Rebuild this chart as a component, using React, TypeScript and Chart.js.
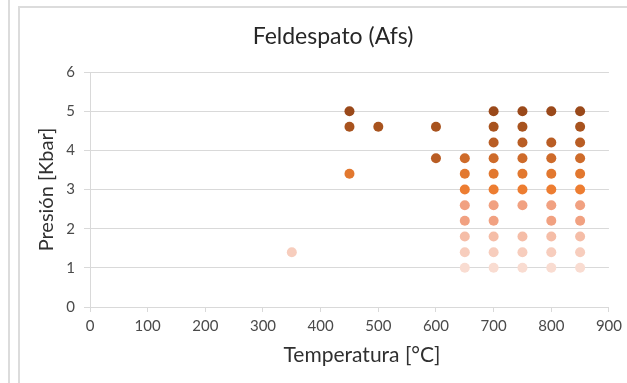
import React, { useEffect, useRef } from "react";
import { Chart, registerables } from "chart.js";
Chart.register(...registerables);

const chartTitle = "Feldespato (Afs)";
const xTitle = "Temperatura [°C]";
const yTitle = "Presión [Kbar]";
const xTickValues = [0, 100, 200, 300, 400, 500, 600, 700, 800, 900];
const yTickValues = [0, 1, 2, 3, 4, 5, 6];

// Temperature (°C) and pressure (Kbar) per colour group
const g1T = [450, 700, 750, 800, 850];
const g1P = [5.0, 5.0, 5.0, 5.0, 5.0];
const g2T = [450, 500, 600, 700, 750, 850];
const g2P = [4.6, 4.6, 4.6, 4.6, 4.6, 4.6];
const g3T = [600, 700, 750, 800, 850];
const g3P = [3.8, 4.2, 4.2, 4.2, 4.2];
const g4T = [650, 700, 750, 800, 850];
const g4P = [3.8, 3.8, 3.8, 3.8, 3.8];
const g5T = [450, 650, 700, 750, 800, 850];
const g5P = [3.4, 3.4, 3.4, 3.4, 3.4, 3.4];
const g6T = [650, 700, 750, 800, 850];
const g6P = [3.0, 3.0, 3.0, 3.0, 3.0];
const g7T = [650, 700, 750, 800, 850, 650, 700, 800, 850];
const g7P = [2.6, 2.6, 2.6, 2.6, 2.6, 2.2, 2.2, 2.2, 2.2];
const g8T = [650, 700, 750, 800, 850];
const g8P = [1.8, 1.8, 1.8, 1.8, 1.8];
const g9T = [350, 650, 700, 750, 800, 850];
const g9P = [1.4, 1.4, 1.4, 1.4, 1.4, 1.4];
const g10T = [650, 700, 750, 800, 850];
const g10P = [1.0, 1.0, 1.0, 1.0, 1.0];

const groups = [
  { t: g1T, p: g1P, color: "#9A491A" },
  { t: g2T, p: g2P, color: "#A8531E" },
  { t: g3T, p: g3P, color: "#B95D24" },
  { t: g4T, p: g4P, color: "#CE6B2A" },
  { t: g5T, p: g5P, color: "#E2782F" },
  { t: g6T, p: g6P, color: "#ED7D31" },
  { t: g7T, p: g7P, color: "#F1A181" },
  { t: g8T, p: g8P, color: "#F5BDA7" },
  { t: g9T, p: g9P, color: "#F7CDBD" },
  { t: g10T, p: g10P, color: "#F9DCD1" },
];

const FONT = "Lato, 'Open Sans', sans-serif";

const titlesPlugin = {
  id: "customTitles",
  afterDraw(chart: any) {
    const { ctx, chartArea } = chart;
    ctx.save();
    ctx.fillStyle = "#262626";
    ctx.textAlign = "center";
    ctx.textBaseline = "middle";
    ctx.font = `23px ${FONT}`;
    ctx.fillText(chartTitle, chartArea.left + 243, 29);
    ctx.font = `21px ${FONT}`;
    ctx.fillStyle = "#303030";
    ctx.fillText(xTitle, chartArea.left + 272, chartArea.bottom + 48);
    ctx.restore();
  },
};

export default function App() {
  const ref = useRef<HTMLCanvasElement>(null);
  useEffect(() => {
    if (!ref.current) return;
    const chart = new Chart(ref.current, {
      type: "scatter",
      data: {
        datasets: groups.map((g, i) => ({
          label: "S" + (i + 1),
          data: g.t.map((x, j) => ({ x, y: g.p[j] })),
          backgroundColor: g.color,
          borderColor: g.color,
          pointRadius: 5,
          pointBorderWidth: 0,
          pointHoverRadius: 5,
        })),
      },
      options: {
        animation: false,
        responsive: false,
        maintainAspectRatio: false,
        events: [],
        layout: { padding: { top: 64, right: 12, left: 0, bottom: 0 } },
        plugins: {
          legend: { display: false },
          title: { display: false },
          tooltip: { enabled: false },
        },
        scales: {
          x: {
            type: "linear",
            min: 0,
            max: 900,
            afterBuildTicks: (s: any) => {
              s.ticks = xTickValues.map((v) => ({ value: v }));
            },
            afterFit: (s: any) => {
              s.height = 76;
            },
            ticks: {
              color: "#4A4A4A",
              font: { family: FONT, size: 15 },
              padding: 5,
              maxRotation: 0,
            },
            grid: {
              drawOnChartArea: false,
              drawTicks: true,
              tickLength: 5,
              color: "#D9D9D9",
            },
            border: { display: true, color: "#D9D9D9", width: 1 },
          },
          y: {
            type: "linear",
            min: 0,
            max: 6,
            afterBuildTicks: (s: any) => {
              s.ticks = yTickValues.map((v) => ({ value: v }));
            },
            afterFit: (s: any) => {
              s.width = 70;
            },
            ticks: {
              color: "#4A4A4A",
              font: { family: FONT, size: 15 },
              padding: 9,
            },
            grid: {
              drawTicks: true,
              tickLength: 6,
              color: "#D9D9D9",
            },
            border: { display: true, color: "#D9D9D9", width: 1 },
            title: {
              display: true,
              text: yTitle,
              color: "#303030",
              font: { family: FONT, size: 20 },
              padding: { top: 15, bottom: 0 },
            },
          },
        },
      },
      plugins: [titlesPlugin],
    });
    return () => chart.destroy();
  }, []);

  return (
    <div
      style={{
        position: "fixed",
        left: 0,
        top: 0,
        width: 627,
        height: 383,
        background: "#fff",
        overflow: "hidden",
      }}
    >
      <div style={{ position: "absolute", left: 8, top: 0, width: 2, height: 383, background: "#DCDCDC" }} />
      <div
        style={{
          position: "absolute",
          left: 18,
          top: 6,
          width: 609,
          height: 377,
          borderLeft: "2px solid #DCDCDC",
          borderTop: "2px solid #DCDCDC",
          boxSizing: "border-box",
        }}
      />
      <canvas
        ref={ref}
        width={607}
        height={375}
        style={{ position: "absolute", left: 20, top: 8, width: 607, height: 375 }}
      />
    </div>
  );
}
